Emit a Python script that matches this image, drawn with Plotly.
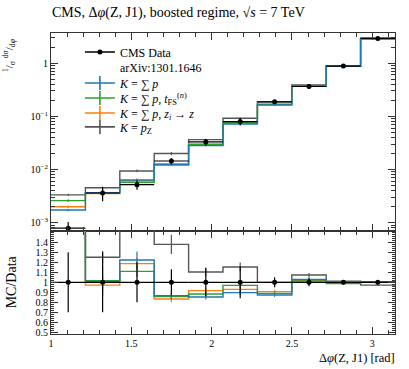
import numpy as np
import plotly.graph_objects as go

# ---- data ----
edges = list(np.linspace(1.0, np.pi, 11))
data_vals = [7.9e-4, 3.62e-3, 5.19e-3, 1.446e-2, 3.30e-2, 7.96e-2, 0.187, 0.363, 0.877, 2.90]
data_relerr = [0.30, 0.30, 0.20, 0.13, 0.14, 0.16, 0.05, 0.04, 0.02, 0.015]

mc_names = ["<i>K</i> = ∑ <i>p</i>",
            "<i>K</i> = ∑ <i>p</i>, <i>t</i><sub>FS</sub><sup>(<i>n</i>)</sup>",
            "<i>K</i> = ∑ <i>p</i>, <i>z<sub>i</sub></i> → <i>z</i>",
            "<i>K</i> = <i>p</i><sub>Z</sub>"]
mc_blue = [1.73e-3, 3.65e-3, 6.35e-3, 1.254e-2, 2.815e-2, 7.14e-2, 0.1633, 0.3739, 0.877, 2.92]
mc_green = [2.60e-3, 3.68e-3, 5.76e-3, 1.239e-2, 2.914e-2, 7.72e-2, 0.1664, 0.3677, 0.8656, 2.90]
mc_orange = [2.00e-3, 3.52e-3, 6.16e-3, 1.205e-2, 3.026e-2, 7.40e-2, 0.1696, 0.3703, 0.877, 2.90]
mc_gray = [3.33e-3, 4.53e-3, 9.40e-3, 1.995e-2, 3.64e-2, 9.18e-2, 0.187, 0.3895, 0.888, 2.82]
err_blue = [0.05, 0.05, 0.07, 0.04, 0.03, 0.03, 0.02, 0.02, 0.01, 0.01]
err_green = [0.06, 0.15, 0.05, 0.04, 0.03, 0.03, 0.02, 0.02, 0.01, 0.01]
err_orange = [0.05, 0.05, 0.05, 0.04, 0.03, 0.03, 0.02, 0.02, 0.01, 0.01]
err_gray = [0.05, 0.05, 0.06, 0.07, 0.04, 0.04, 0.02, 0.02, 0.01, 0.01]
mc_colors = ["#1f77b4", "#2ca02c", "#ff7f0e", "#555555"]

# ---- derived ----
edges = np.array(edges)
centers = 0.5 * (edges[:-1] + edges[1:])
halfw = 0.5 * (edges[1:] - edges[:-1])
data = np.array(data_vals)
derr = np.array(data_relerr)

FONT = "Liberation Serif"
fig = go.Figure()

series = list(zip(mc_names, [mc_blue, mc_green, mc_orange, mc_gray],
                  [err_blue, err_green, err_orange, err_gray], mc_colors))

# legend rows (one single-item legend per row, for the tight spacing of the reference)
legend_ids = ["legend", "legend2", "legend3", "legend4", "legend5", "legend6"]
legend_rows_y = [0.937, 0.887, 0.834, 0.784, 0.734, 0.688]

# draw gray first so blue ends on top
for rank, (name, vals, errs, col) in reversed(list(enumerate(series))):
    v = np.array(vals)
    e = np.array(errs)
    r = v / data
    for (yv, ya, xa) in [(v, "y", "x"), (r, "y2", "x2")]:
        fig.add_trace(go.Scatter(x=edges, y=list(yv) + [yv[-1]], mode="lines",
                                 line=dict(color=col, width=1.4, shape="hv"),
                                 xaxis=xa, yaxis=ya, showlegend=False, hoverinfo="skip"))
        fig.add_trace(go.Scatter(x=centers, y=yv, mode="markers", marker=dict(size=0.1, color=col),
                                 error_y=dict(type="data", array=yv * e, color=col, thickness=1.2, width=0),
                                 xaxis=xa, yaxis=ya, showlegend=False, hoverinfo="skip"))
    fig.add_trace(go.Scatter(x=[None], y=[None], mode="lines+markers", name=name,
                             line=dict(color=col, width=1.6),
                             marker=dict(symbol="line-ns-open", size=10, color=col, line=dict(color=col, width=1.6)),
                             legend=legend_ids[2 + rank]))

# data
fig.add_trace(go.Scatter(x=centers, y=data, mode="markers",
                         marker=dict(color="black", size=5),
                         error_y=dict(type="data", array=data * derr, color="black", thickness=1.2, width=0),
                         error_x=dict(type="data", array=halfw, color="black", thickness=1.2, width=0),
                         xaxis="x", yaxis="y", showlegend=False))
fig.add_trace(go.Scatter(x=centers, y=np.ones_like(data), mode="markers",
                         marker=dict(color="black", size=5),
                         error_y=dict(type="data", array=derr, color="black", thickness=1.2, width=0),
                         error_x=dict(type="data", array=halfw, color="black", thickness=1.2, width=0),
                         xaxis="x2", yaxis="y2", showlegend=False))
fig.add_trace(go.Scatter(x=[None], y=[None], mode="lines+markers", name="CMS Data",
                         line=dict(color="black", width=1.6),
                         marker=dict(color="black", size=5), legend="legend"))
fig.add_trace(go.Scatter(x=[None], y=[None], mode="lines", name="arXiv:1301.1646",
                         line=dict(color="rgba(0,0,0,0)", width=0), legend="legend2"))

axcol = "#333333"
common_x = dict(range=[1.0, np.pi], showline=True, linecolor=axcol, linewidth=1, mirror="ticks",
                ticks="inside", ticklen=7, tickcolor=axcol, tickwidth=1, showgrid=False, zeroline=False,
                tickvals=[1, 1.5, 2, 2.5, 3],
                minor=dict(ticks="inside", ticklen=4, dtick=0.1, tick0=1.0, tickcolor=axcol, showgrid=False))

legend_layout = {}
for lid, ly in zip(legend_ids, legend_rows_y):
    legend_layout[lid] = dict(x=0.084, y=ly, xanchor="left", yanchor="middle",
                              bgcolor="rgba(0,0,0,0)", font=dict(family=FONT, size=12),
                              itemwidth=30, borderwidth=0)

fig.update_layout(
    width=409, height=369,
    margin=dict(l=51, r=14, t=33, b=35),
    paper_bgcolor="white", plot_bgcolor="white",
    font=dict(family=FONT, size=10, color="black"),
    xaxis=dict(**common_x, anchor="y", showticklabels=False),
    xaxis2=dict(**common_x, anchor="y2", ticktext=["1", "1.5", "2", "2.5", "3"],
                tickfont=dict(size=10)),
    yaxis=dict(type="log", domain=[0.343, 1.0], range=[-3.151, 0.565], anchor="x",
               showline=True, linecolor=axcol, mirror="ticks", ticks="inside", ticklen=7,
               tickcolor=axcol, showgrid=False, zeroline=False,
               tickvals=[1e-3, 1e-2, 1e-1, 1],
               ticktext=["10<sup>−3</sup>", "10<sup>−2</sup>", "10<sup>−1</sup>", "1"],
               minor=dict(ticks="inside", ticklen=4, dtick="D1", tickcolor=axcol, showgrid=False)),
    yaxis2=dict(domain=[0.0, 0.343], range=[0.483, 1.516], anchor="x2",
                showline=True, linecolor=axcol, mirror="ticks", ticks="inside", ticklen=7,
                tickcolor=axcol, showgrid=False, zeroline=False,
                tickvals=[0.5, 0.6, 0.7, 0.8, 0.9, 1.0, 1.1, 1.2, 1.3, 1.4],
                ticktext=["0.5", "0.6", "0.7", "0.8", "0.9", "1", "1.1", "1.2", "1.3", "1.4"],
                minor=dict(ticks="inside", ticklen=3, dtick=0.02, tick0=0.5, tickcolor=axcol, showgrid=False)),
    showlegend=True,
    **legend_layout,
)

fig.add_annotation(text="CMS, Δ<i>φ</i>(Z, J1), boosted regime, √<i>s</i> = 7 TeV",
                   xref="paper", yref="paper", x=-0.003, y=1.0664, xanchor="left", yanchor="middle",
                   showarrow=False, font=dict(family=FONT, size=14))
fig.add_annotation(text="<sup>1</sup>/<sub>σ</sub> <sup>dσ</sup>/<sub>d<i>φ</i></sub>",
                   xref="paper", yref="paper", x=-0.122, y=0.99, xanchor="center", yanchor="top",
                   textangle=-90, showarrow=False, font=dict(family=FONT, size=11))
fig.add_annotation(text="MC/Data", xref="paper", yref="paper", x=-0.115, y=0.173,
                   xanchor="center", yanchor="middle", textangle=-90, showarrow=False,
                   font=dict(family=FONT, size=14))
fig.add_annotation(text="Δ<i>φ</i>(Z, J1) [rad]", xref="paper", yref="paper", x=1.006, y=-0.08,
                   xanchor="right", yanchor="middle", showarrow=False, font=dict(family=FONT, size=12.5))

fig.write_html("out.html", config={"displayModeBar": False},
               post_script="document.body.style.margin='0';")
